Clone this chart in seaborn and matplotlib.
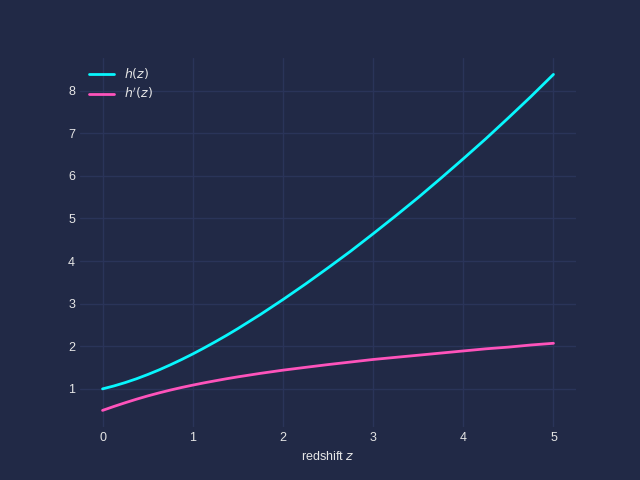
import seaborn as sns
import matplotlib.pyplot as plt
import pandas as pd

# values
z = [0.0, 0.125, 0.25, 0.375, 0.5, 0.625, 0.75, 0.875, 1.0, 1.125, 1.25,
     1.375, 1.5, 1.75, 2.0, 2.25, 2.5, 2.75, 3.0, 3.25, 3.5, 3.75, 4.0,
     4.25, 4.5, 4.75, 5.0]
h = [1.00, 1.068, 1.147, 1.236, 1.336, 1.444, 1.562, 1.687, 1.819, 1.959, 2.105,
     2.256, 2.414, 2.745, 3.095, 3.46, 3.84, 4.23, 4.64, 5.06, 5.49, 5.94, 6.40,
     6.87, 7.36, 7.86, 8.38]
dh = [0.495, 0.587, 0.674, 0.757, 0.834, 0.905, 0.971, 1.032, 1.088, 1.141, 1.19,
      1.238, 1.282, 1.364, 1.439, 1.505, 1.57, 1.63, 1.69, 1.74, 1.79, 1.84, 1.89,
      1.94, 1.98, 2.03, 2.07]
labels = ['$h(z)$', "$h'(z)$"]

df = pd.DataFrame({'z': z * 2,
                   'value': h + dh,
                   'curve': [labels[0]] * len(z) + [labels[1]] * len(z)})

bg = '#212946'
sns.set_theme(style='dark', rc={
    'figure.facecolor': bg, 'axes.facecolor': bg, 'savefig.facecolor': bg,
    'axes.edgecolor': bg, 'grid.color': '#2A3459', 'axes.grid': True,
    'text.color': '0.9', 'axes.labelcolor': '0.9',
    'xtick.color': '0.9', 'ytick.color': '0.9',
    'xtick.major.size': 0, 'ytick.major.size': 0,
})
plt.rcParams['font.family'] = ['Liberation Sans', 'DejaVu Sans']
plt.rcParams['mathtext.fontset'] = 'dejavusans'

fig, ax = plt.subplots(figsize=(6.4, 4.8), dpi=100)
sns.lineplot(data=df, x='z', y='value', hue='curve',
             palette=['#08F7FE', '#FE53BB'], linewidth=2, ax=ax)
for s in ax.spines.values():
    s.set_visible(False)
ax.set_xlabel('redshift $z$', fontsize=9)
ax.set_ylabel('')
ax.tick_params(labelsize=9)
ax.legend(frameon=False, loc='upper left', fontsize=9, borderaxespad=0.3,
          labelspacing=0.35)
fig.savefig('out.png', dpi=100)
